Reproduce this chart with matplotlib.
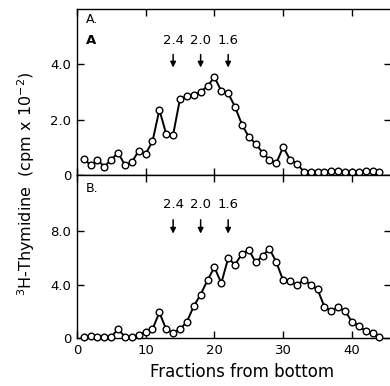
import matplotlib.pyplot as plt

plt.rcParams['font.family'] = ['DejaVu Sans']

fractions = list(range(1, 45))

# panel A values (cpm x 10^-2)
counts_a = [0.59, 0.35, 0.53, 0.30, 0.55, 0.80, 0.35, 0.45, 0.88, 0.76,
            1.21, 2.35, 1.47, 1.45, 2.75, 2.84, 2.87, 3.01, 3.20, 3.54,
            3.03, 2.95, 2.46, 1.82, 1.37, 1.13, 0.80, 0.55, 0.42, 1.01,
            0.55, 0.40, 0.12, 0.12, 0.12, 0.12, 0.13, 0.13, 0.12, 0.12,
            0.12, 0.13, 0.13, 0.12]

# panel B values
counts_b = [0.10, 0.13, 0.10, 0.10, 0.10, 0.67, 0.10, 0.10, 0.27, 0.47,
            0.67, 1.92, 0.65, 0.40, 0.67, 1.22, 2.39, 3.26, 4.33, 5.30,
            4.11, 5.96, 5.50, 6.28, 6.60, 5.66, 6.15, 6.68, 5.68, 4.31,
            4.26, 3.94, 4.38, 3.98, 3.64, 2.34, 2.02, 2.29, 2.02, 1.22,
            0.92, 0.52, 0.40, 0.10]

marker_pos = [14, 18, 22]
marker_labels = ['2.4', '2.0', '1.6']

fig = plt.figure(figsize=(3.9, 3.86), dpi=100)
# right spine sits just past the image edge, as in the scan
ax_a = fig.add_axes([0.197, 0.547, 0.806, 0.43])
ax_b = fig.add_axes([0.197, 0.124, 0.806, 0.423])

panels = [
    (ax_a, counts_a, 6, [0, 2, 4], ['0', '2.0', '4.0'], (4.45, 3.78, 4.85)),
    (ax_b, counts_b, 12.2, [0, 4, 8], ['0', '4.0', '8.0'], (9.05, 7.6, 9.95)),
]

for ax, vals, ymax, yt, ytl, arr in panels:
    ax.plot(fractions, vals, '-o', color='black', lw=1.4, ms=4.8,
            mfc='white', mec='black', mew=1.0, clip_on=False, zorder=3)
    ax.set_xlim(0, 45.7)
    ax.set_ylim(0, ymax)
    ax.set_yticks(yt)
    ax.set_yticklabels(ytl)
    ax.set_xticks([0, 10, 20, 30, 40])
    ax.tick_params(direction='in', top=True, right=True, length=5,
                   width=1.0, labelsize=9.5, pad=4)
    for s in ax.spines.values():
        s.set_linewidth(1.0)
    y0, y1, ylab = arr
    for x, lab in zip(marker_pos, marker_labels):
        ax.annotate('', xy=(x, y1), xytext=(x, y0),
                    arrowprops=dict(arrowstyle='-|>', color='black', lw=1.1,
                                    mutation_scale=8))
        ax.text(x, ylab, lab, ha='center', va='center', fontsize=9.5)

ax_a.tick_params(labelbottom=False)
ax_a.text(1.3, 5.6, 'A.', fontsize=9, va='center')
ax_a.text(1.3, 4.85, 'A', fontsize=9.5, fontweight='bold', va='center')
ax_b.text(1.3, 11.2, 'B.', fontsize=9, va='center')

fig.text(0.62, 0.036, 'Fractions from bottom', ha='center', va='center',
         fontsize=12)
fig.text(0.066, 0.523, '$^3$H-Thymidine  (cpm x 10$^{-2}$)', rotation=90,
         ha='center', va='center', fontsize=11.5)

fig.savefig('out.png', dpi=100)
